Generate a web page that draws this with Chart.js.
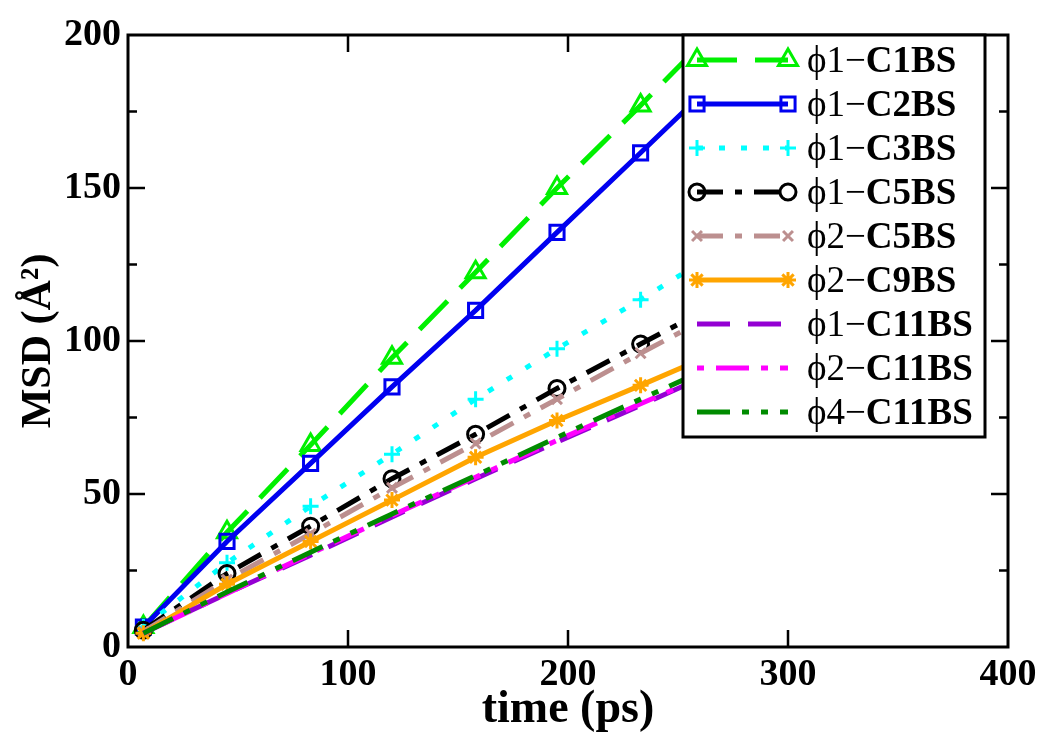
<!DOCTYPE html>
<html>
<head>
<meta charset="utf-8">
<script src="https://cdn.jsdelivr.net/npm/chart.js@4.4.1/dist/chart.umd.min.js"></script>
<style>
  html, body { margin: 0; padding: 0; background: #fff; }
</style>
</head>
<body>
<canvas id="msdChart" width="1050" height="746"></canvas>
<script>
// MSD vs time
const times = [7, 45, 83, 120, 158, 195, 233, 270];

const phi1C1BS  = [6.5, 37.5, 66, 94.5, 122.5, 150, 177, 204];
const phi1C2BS  = [6.5, 34.5, 60, 85, 110, 135.5, 161.5, 187];
const phi1C3BS  = [6.5, 27.5, 46, 63, 81, 97.5, 113.5, 130];
const phi1C5BS  = [5.5, 24, 39.5, 55, 69.5, 84.5, 99, 113];
const phi2C5BS  = [5, 22, 37, 52, 66.5, 81, 96, 110];
const phi2C9BS  = [4.5, 20.5, 34.5, 48, 62, 74, 85.5, 97];
const phi1C11BS = [4.5, 17.5, 30, 42.5, 55, 67, 79, 91];
const phi2C11BS = [4.5, 17.5, 30.5, 43, 55.5, 67.5, 79.5, 91];
const phi4C11BS = [4.5, 18, 31, 43.5, 56, 68.5, 81, 93];

const xTicks = [0, 100, 200, 300, 400];
const yTicks = [0, 50, 100, 150, 200];

// legend label parts: [prefix (regular), name (bold)]
const labels = [
  ["\u03d51\u2212", "C1BS"],
  ["\u03d51\u2212", "C2BS"],
  ["\u03d51\u2212", "C3BS"],
  ["\u03d51\u2212", "C5BS"],
  ["\u03d52\u2212", "C5BS"],
  ["\u03d52\u2212", "C9BS"],
  ["\u03d51\u2212", "C11BS"],
  ["\u03d52\u2212", "C11BS"],
  ["\u03d54\u2212", "C11BS"]
];

const values = [phi1C1BS, phi1C2BS, phi1C3BS, phi1C5BS, phi2C5BS,
                phi2C9BS, phi1C11BS, phi2C11BS, phi4C11BS];

const styles = [
  { color: "#00f000", dash: [40, 18], point: "triangle", r: 11 },
  { color: "#0000f0", dash: [], point: "rect", r: 10 },
  { color: "#00ffff", dash: [6, 16], point: "cross", r: 8 },
  { color: "#000000", dash: [26, 12, 7, 12], point: "circle", r: 8 },
  { color: "#bc8f8f", dash: [26, 12, 7, 12], point: "crossRot", r: 7 },
  { color: "#ffa500", dash: [], point: "star", r: 8 },
  { color: "#9400d3", dash: [33, 18], point: false, r: 0 },
  { color: "#ff00ff", dash: [7, 12, 33, 12], point: false, r: 0 },
  { color: "#008b00", dash: [33, 12, 7, 12, 7, 12], point: false, r: 0 }
];

const SERIF = "'Liberation Serif', 'DejaVu Serif', serif";

const datasets = values.map((vals, i) => ({
  label: labels[i].join(""),
  data: times.map((t, k) => ({ x: t, y: vals[k] })),
  borderColor: styles[i].color,
  borderWidth: 5,
  borderDash: styles[i].dash,
  pointStyle: styles[i].point || "circle",
  pointRadius: styles[i].r,
  pointBorderWidth: 3,
  pointBorderColor: styles[i].color,
  pointBackgroundColor: "rgba(0,0,0,0)",
  fill: false,
  tension: 0,
  order: values.length - i
}));

// frame with inward ticks, mirrored on top and right
const framePlugin = {
  id: "frame",
  afterDatasetsDraw(chart) {
    const { ctx, chartArea: a, scales: { x, y } } = chart;
    ctx.save();
    ctx.strokeStyle = "#000";
    ctx.lineWidth = 2.5;
    for (const v of xTicks.slice(1, -1)) {
      const px = x.getPixelForValue(v);
      ctx.beginPath();
      ctx.moveTo(px, a.bottom); ctx.lineTo(px, a.bottom - 17);
      ctx.moveTo(px, a.top); ctx.lineTo(px, a.top + 17);
      ctx.stroke();
    }
    for (let v = 25; v < 200; v += 25) {
      const py = y.getPixelForValue(v);
      const len = v % 50 === 0 ? 17 : 9;
      ctx.beginPath();
      ctx.moveTo(a.left, py); ctx.lineTo(a.left + len, py);
      ctx.moveTo(a.right, py); ctx.lineTo(a.right - len, py);
      ctx.stroke();
    }
    ctx.lineWidth = 3;
    ctx.strokeRect(a.left, a.top, a.right - a.left, a.bottom - a.top);
    ctx.restore();
  },
  afterDraw(chart) {
    const ctx = chart.ctx;
    const box = { left: 683, top: 35, right: 985, bottom: 437 };
    ctx.save();
    ctx.fillStyle = "#fff";
    ctx.fillRect(box.left, box.top, box.right - box.left, box.bottom - box.top);
    ctx.strokeStyle = "#000";
    ctx.lineWidth = 3;
    ctx.strokeRect(box.left, box.top, box.right - box.left, box.bottom - box.top);

    const x0 = 697, x1 = 788, tx = 807;
    labels.forEach((lab, i) => {
      const st = styles[i];
      const cy = 60 + i * 44;
      ctx.save();
      ctx.strokeStyle = st.color;
      ctx.lineWidth = 5;
      ctx.setLineDash(st.dash);
      ctx.beginPath();
      ctx.moveTo(x0, cy); ctx.lineTo(x1, cy);
      ctx.stroke();
      ctx.setLineDash([]);
      if (st.point) {
        ctx.lineWidth = 3;
        ctx.fillStyle = "rgba(0,0,0,0)";
        for (const px of [x0, x1]) {
          Chart.helpers.drawPoint(ctx, {
            pointStyle: st.point, radius: st.r, rotation: 0, borderWidth: 3
          }, px, cy);
        }
      }
      ctx.restore();

      ctx.fillStyle = "#000";
      ctx.textBaseline = "middle";
      ctx.textAlign = "left";
      ctx.font = "37px " + SERIF;
      ctx.fillText(lab[0], tx, cy + 2);
      const w = ctx.measureText(lab[0]).width;
      ctx.font = "bold 37px " + SERIF;
      ctx.fillText(lab[1], tx + w, cy + 2);
    });
    ctx.restore();
  }
};

new Chart(document.getElementById("msdChart").getContext("2d"), {
  type: "line",
  data: { datasets },
  options: {
    responsive: false,
    animation: false,
    layout: { padding: { left: 0, right: 42, top: 35, bottom: 0 } },
    plugins: { legend: { display: false }, tooltip: { enabled: false } },
    scales: {
      x: {
        type: "linear",
        min: 0, max: 400,
        afterFit: s => { s.height = 99; },
        afterBuildTicks: s => { s.ticks = xTicks.map(v => ({ value: v })); },
        grid: { display: false, drawTicks: false },
        border: { display: false },
        ticks: {
          padding: 5,
          color: "#000",
          font: { family: SERIF, size: 38, weight: "bold" },
          maxRotation: 0
        },
        title: {
          display: true,
          text: "time (ps)",
          color: "#000",
          font: { family: SERIF, size: 46, weight: "bold" },
          padding: { top: 0, bottom: 8 }
        }
      },
      y: {
        type: "linear",
        min: 0, max: 200,
        afterFit: s => { s.width = 128; },
        afterBuildTicks: s => { s.ticks = yTicks.map(v => ({ value: v })); },
        grid: { display: false, drawTicks: false },
        border: { display: false },
        ticks: {
          padding: 7,
          color: "#000",
          font: { family: SERIF, size: 38, weight: "bold" }
        },
        title: {
          display: true,
          text: "MSD (\u00c5\u00b2)",
          color: "#000",
          font: { family: SERIF, size: 42, weight: "bold" },
          padding: { top: 14, bottom: 0 }
        }
      }
    }
  },
  plugins: [framePlugin]
});
</script>
</body>
</html>
